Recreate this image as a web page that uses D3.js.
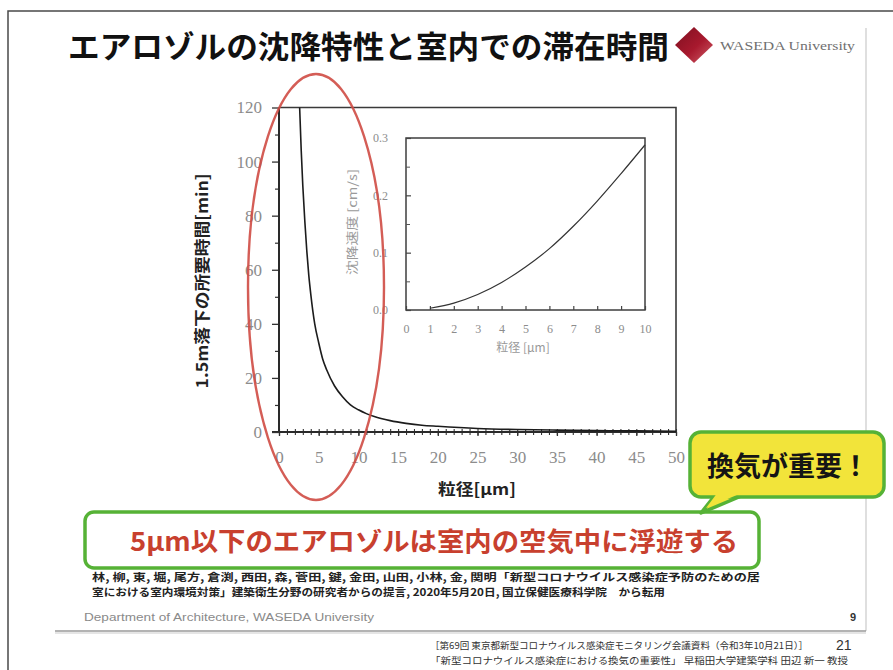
<!DOCTYPE html>
<html>
<head>
<meta charset="utf-8">
<script src="https://cdn.jsdelivr.net/npm/d3@7"></script>
<style>
  html, body { margin: 0; padding: 0; background: #ffffff; }
  svg { display: block; }
  .jp { font-family: "Noto Sans CJK JP", "Noto Sans", sans-serif; }
  .num { font-family: "Liberation Serif", "DejaVu Serif", serif; }
</style>
</head>
<body>
<svg id="chart" width="893" height="670"></svg>
<script>
// ---- data ----
// time for a particle to fall 1.5 m [min] by particle diameter [µm]
const mainDiameter = [2.6, 2.7, 2.8, 3.0, 3.25, 3.5, 3.75, 4.0, 4.5, 5, 5.5, 6, 7, 8, 9, 10, 11, 12, 14, 16, 18, 20, 25, 30, 35, 40, 45, 50];
const mainTime     = [120, 112, 104, 91, 78, 67, 58, 51, 40, 33, 27, 23, 17, 13, 10, 8.2, 6.8, 5.7, 4.2, 3.2, 2.5, 2.1, 1.3, 0.9, 0.7, 0.5, 0.4, 0.3];

// settling velocity [cm/s] by particle diameter [µm]
const insetDiameter = [1, 2, 3, 4, 5, 6, 7, 8, 9, 10];
const insetVelocity = [0.003, 0.012, 0.027, 0.048, 0.075, 0.107, 0.146, 0.19, 0.238, 0.288];

const mainXTicks  = [0, 5, 10, 15, 20, 25, 30, 35, 40, 45, 50];
const mainYTicks  = [0, 20, 40, 60, 80, 100, 120];
const insetXTicks = [0, 1, 2, 3, 4, 5, 6, 7, 8, 9, 10];
const insetYTicks = [0, 0.1, 0.2, 0.3];

const titleText   = "エアロゾルの沈降特性と室内での滞在時間";
const logoText    = "WASEDA University";
const yTitle      = "1.5m落下の所要時間[min]";
const xTitle      = "粒径[μm]";
const insetYTitle = "沈降速度 [cm/s]";
const insetXTitle = "粒径 [μm]";
const calloutText = "換気が重要！";
const messageText = "5μm以下のエアロゾルは室内の空気中に浮遊する";
const sourceLines = [
  "林, 柳, 東, 堀, 尾方, 倉渕, 西田, 森, 菅田, 鍵, 金田, 山田, 小林, 金, 関明「新型コロナウイルス感染症予防のための居",
  "室における室内環境対策」建築衛生分野の研究者からの提言, 2020年5月20日, 国立保健医療科学院　から転用"
];
const deptText    = "Department of Architecture, WASEDA University";
const slideNo     = "9";
const footerLines = [
  "［第69回 東京都新型コロナウイルス感染症モニタリング会議資料（令和3年10月21日）］",
  "「新型コロナウイルス感染症における換気の重要性」 早稲田大学建築学科 田辺 新一 教授"
];
const pageNo      = "21";

// ---- drawing ----
const svg = d3.select("#chart");

// page frame and slide edges
svg.append("path").attr("d", "M8,670 V11 H893").attr("fill", "none")
  .attr("stroke", "#4a4a4a").attr("stroke-width", 1.5);
svg.append("line").attr("x1", 866).attr("x2", 866).attr("y1", 28).attr("y2", 631)
  .attr("stroke", "#d4d4d4").attr("stroke-width", 1.5);
svg.append("line").attr("x1", 55).attr("x2", 866).attr("y1", 631).attr("y2", 631)
  .attr("stroke", "#9a9a9a").attr("stroke-width", 1.5);
svg.append("line").attr("x1", 55).attr("x2", 866).attr("y1", 633).attr("y2", 633)
  .attr("stroke", "#dddddd").attr("stroke-width", 1.5);

// title
svg.append("text").attr("class", "jp").attr("x", 68).attr("y", 58)
  .attr("font-size", 31).attr("font-weight", 700).attr("fill", "#111")
  .attr("textLength", 601).attr("lengthAdjust", "spacingAndGlyphs")
  .text(titleText);

// university mark
const grad = svg.append("defs").append("linearGradient").attr("id", "dia")
  .attr("x1", "0").attr("y1", "0").attr("x2", "1").attr("y2", "1");
grad.append("stop").attr("offset", "0").attr("stop-color", "#7d1020");
grad.append("stop").attr("offset", "0.55").attr("stop-color", "#a8192e");
grad.append("stop").attr("offset", "1").attr("stop-color", "#d0606a");
svg.append("path").attr("d", "M694,27 L713,45 L694,63 L675,45 Z").attr("fill", "url(#dia)");
svg.append("text").attr("class", "num").attr("x", 720).attr("y", 50)
  .attr("font-size", 13).attr("fill", "#707070")
  .attr("textLength", 135).attr("lengthAdjust", "spacingAndGlyphs").text(logoText);

// ---- main chart ----
const x = d3.scaleLinear().domain([0, 50]).range([279, 676]);
const y = d3.scaleLinear().domain([0, 120]).range([432, 107.5]);

// frame top / right
svg.append("path")
  .attr("d", `M${x(0)},${y(120)} H${x(50)} V${y(0)}`)
  .attr("fill", "none").attr("stroke", "#3a3a3a").attr("stroke-width", 1.6);

// minor x ticks (every 1 µm) on both sides of the axis
const minorX = d3.range(0, 51, 1);
svg.append("g").attr("transform", `translate(0,${y(0)})`)
  .call(d3.axisBottom(x).tickValues(minorX).tickSize(3).tickFormat(""))
  .call(g => g.select(".domain").remove())
  .call(g => g.selectAll("line").attr("stroke", "#333").attr("stroke-width", 1.1));
svg.append("g").attr("transform", `translate(0,${y(0)})`)
  .call(d3.axisTop(x).tickValues(minorX).tickSize(3).tickFormat(""))
  .call(g => g.select(".domain").remove())
  .call(g => g.selectAll("line").attr("stroke", "#333").attr("stroke-width", 1.1));

// x axis with labels
svg.append("g").attr("transform", `translate(0,${y(0)})`)
  .call(d3.axisBottom(x).tickValues(mainXTicks).tickSize(4).tickPadding(15).tickFormat(d3.format("d")))
  .call(g => g.select(".domain").remove())
  .call(g => g.selectAll("line").attr("stroke", "#333").attr("stroke-width", 1.3))
  .call(g => g.selectAll("text").attr("class", "num").attr("font-size", 17).attr("fill", "#8c8c8c"));
svg.append("line").attr("x1", 272).attr("x2", x(50)).attr("y1", y(0)).attr("y2", y(0))
  .attr("stroke", "#2a2a2a").attr("stroke-width", 2);

// y axis: minor ticks every 10 min, labelled every 20
svg.append("g").attr("transform", `translate(${x(0)},0)`)
  .call(d3.axisLeft(y).tickValues(d3.range(10, 120, 20)).tickSize(4).tickFormat(""))
  .call(g => g.select(".domain").remove())
  .call(g => g.selectAll("line").attr("stroke", "#333").attr("stroke-width", 1.2));
svg.append("g").attr("transform", `translate(${x(0)},0)`)
  .call(d3.axisLeft(y).tickValues(mainYTicks).tickSize(7).tickPadding(10).tickFormat(d3.format("d")))
  .call(g => g.select(".domain").remove())
  .call(g => g.selectAll("line").attr("stroke", "#333").attr("stroke-width", 1.3))
  .call(g => g.selectAll("text").attr("class", "num").attr("font-size", 17).attr("fill", "#8c8c8c"));
svg.append("line").attr("x1", x(0)).attr("x2", x(0)).attr("y1", y(120)).attr("y2", y(0))
  .attr("stroke", "#2a2a2a").attr("stroke-width", 2);

// fall-time curve
const mainPts = mainDiameter.map((d, i) => [d, mainTime[i]]);
svg.append("path").datum(mainPts)
  .attr("d", d3.line().x(d => x(d[0])).y(d => y(d[1])).curve(d3.curveMonotoneX))
  .attr("fill", "none").attr("stroke", "#1c1c1c").attr("stroke-width", 1.6);

// axis titles
svg.append("text").attr("class", "jp")
  .attr("transform", "translate(208,281) rotate(-90)")
  .attr("text-anchor", "middle").attr("font-size", 16).attr("font-weight", 700).attr("fill", "#222")
  .attr("textLength", 215).attr("lengthAdjust", "spacingAndGlyphs").text(yTitle);
svg.append("text").attr("class", "jp").attr("x", 477).attr("y", 495)
  .attr("text-anchor", "middle").attr("font-size", 16).attr("font-weight", 700).attr("fill", "#222")
  .attr("textLength", 78).attr("lengthAdjust", "spacingAndGlyphs").text(xTitle);

// ---- inset chart ----
const xi = d3.scaleLinear().domain([0, 10]).range([406, 645]);
const yi = d3.scaleLinear().domain([0, 0.3]).range([310, 138]);

svg.append("rect").attr("x", xi(0)).attr("y", yi(0.3))
  .attr("width", xi(10) - xi(0)).attr("height", yi(0) - yi(0.3))
  .attr("fill", "#fff").attr("stroke", "#3e3e3e").attr("stroke-width", 1.5);

svg.append("g").attr("transform", `translate(0,${yi(0)})`)
  .call(d3.axisBottom(xi).tickValues(insetXTicks).tickSizeInner(-4).tickSizeOuter(0).tickPadding(14).tickFormat(d3.format("d")))
  .call(g => g.select(".domain").remove())
  .call(g => g.selectAll("line").attr("stroke", "#444").attr("stroke-width", 1.2))
  .call(g => g.selectAll("text").attr("class", "num").attr("font-size", 12).attr("fill", "#8c8c8c"));
svg.append("g").attr("transform", `translate(${xi(0)},0)`)
  .call(d3.axisLeft(yi).tickValues(d3.range(0.05, 0.3, 0.1)).tickSizeInner(-4).tickSizeOuter(0).tickFormat(""))
  .call(g => g.select(".domain").remove())
  .call(g => g.selectAll("line").attr("stroke", "#555").attr("stroke-width", 1));
svg.append("g").attr("transform", `translate(${xi(0)},0)`)
  .call(d3.axisLeft(yi).tickValues(insetYTicks).tickSizeInner(-5).tickSizeOuter(0).tickPadding(18).tickFormat(d3.format(".1f")))
  .call(g => g.select(".domain").remove())
  .call(g => g.selectAll("line").attr("stroke", "#444").attr("stroke-width", 1.2))
  .call(g => g.selectAll("text").attr("class", "num").attr("font-size", 12).attr("fill", "#8c8c8c"));

const insetPts = insetDiameter.map((d, i) => [d, insetVelocity[i]]);
svg.append("path").datum(insetPts)
  .attr("d", d3.line().x(d => xi(d[0])).y(d => yi(d[1])).curve(d3.curveMonotoneX))
  .attr("fill", "none").attr("stroke", "#333").attr("stroke-width", 1.2);

svg.append("text").attr("class", "jp").attr("x", 523).attr("y", 352)
  .attr("text-anchor", "middle").attr("font-size", 12).attr("fill", "#999")
  .text(insetXTitle);
svg.append("text").attr("class", "jp")
  .attr("transform", "translate(357,222) rotate(-90)")
  .attr("text-anchor", "middle").attr("font-size", 12).attr("fill", "#9a9a9a")
  .attr("textLength", 106).attr("lengthAdjust", "spacingAndGlyphs").text(insetYTitle);

// highlight ellipse around the small-diameter region
svg.append("ellipse").attr("cx", 316).attr("cy", 287).attr("rx", 68).attr("ry", 213)
  .attr("fill", "none").attr("stroke", "#cf4b44").attr("stroke-width", 2.4).attr("opacity", 0.9);

// ---- message box ----
svg.append("rect").attr("x", 85).attr("y", 512).attr("width", 674).attr("height", 56).attr("rx", 9)
  .attr("fill", "#fff").attr("stroke", "#56b236").attr("stroke-width", 3.5);
svg.append("text").attr("class", "jp").attr("x", 434).attr("y", 551)
  .attr("text-anchor", "middle").attr("font-size", 26).attr("font-weight", 700).attr("fill", "#c8402e")
  .attr("textLength", 608).attr("lengthAdjust", "spacingAndGlyphs").text(messageText);

// ---- callout ----
const tail = "M716,494 L746,494 L701,513 Z";
svg.append("path").attr("d", tail).attr("fill", "#f2e43a").attr("stroke", "#56b236")
  .attr("stroke-width", 3.5).attr("stroke-linejoin", "round");
svg.append("rect").attr("x", 690).attr("y", 432).attr("width", 194).attr("height", 65).attr("rx", 11)
  .attr("fill", "#f2e43a").attr("stroke", "#56b236").attr("stroke-width", 3.5);
svg.append("path").attr("d", "M718,492 L744,492 L706,508 Z").attr("fill", "#f2e43a");
svg.append("text").attr("class", "jp").attr("x", 788).attr("y", 476)
  .attr("text-anchor", "middle").attr("font-size", 27).attr("font-weight", 700).attr("fill", "#151515")
  .text(calloutText);

// ---- source, slide footer, page footer ----
svg.append("g").selectAll("text").data(sourceLines).join("text")
  .attr("class", "jp").attr("x", 92).attr("y", (d, i) => 581 + i * 15)
  .attr("font-size", 10.5).attr("font-weight", 700).attr("fill", "#222")
  .attr("textLength", (d, i) => i === 0 ? 668 : 573).attr("lengthAdjust", "spacingAndGlyphs")
  .text(d => d);

svg.append("text").attr("x", 84).attr("y", 621).attr("font-family", "Liberation Sans, Arial, sans-serif")
  .attr("font-size", 10.5).attr("fill", "#8a8a8a")
  .attr("textLength", 290).attr("lengthAdjust", "spacingAndGlyphs").text(deptText);
svg.append("text").attr("x", 850).attr("y", 621).attr("font-family", "Liberation Sans, Arial, sans-serif")
  .attr("font-size", 11).attr("font-weight", 700).attr("fill", "#333").text(slideNo);

svg.append("g").selectAll("text").data(footerLines).join("text")
  .attr("class", "jp").attr("x", 430).attr("y", (d, i) => 649 + i * 15)
  .attr("font-size", 9.5).attr("fill", "#333")
  .attr("textLength", (d, i) => i === 0 ? 378 : 418).attr("lengthAdjust", "spacingAndGlyphs")
  .text(d => d);
svg.append("text").attr("x", 836).attr("y", 650).attr("font-family", "Liberation Sans, Arial, sans-serif")
  .attr("font-size", 14).attr("fill", "#333").text(pageNo);
</script>
</body>
</html>
